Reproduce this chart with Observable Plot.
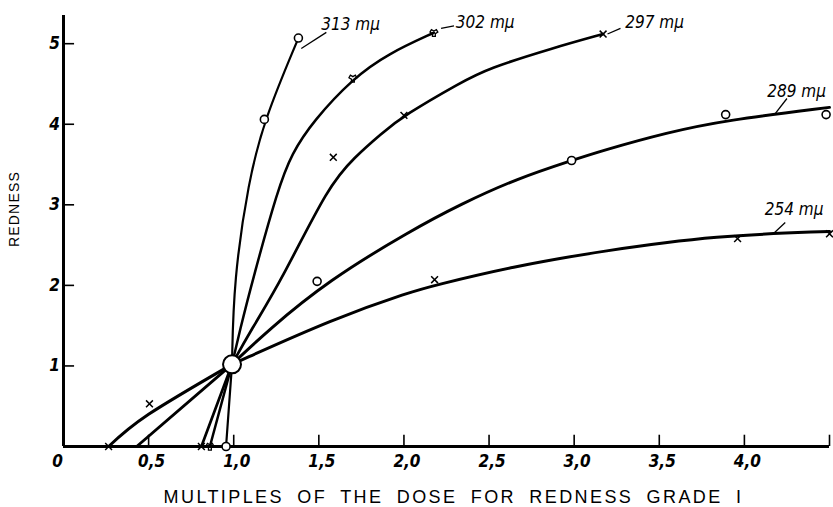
<!DOCTYPE html>
<html>
<head>
<meta charset="utf-8">
<script src="https://cdn.jsdelivr.net/npm/d3@7"></script>
<script src="https://cdn.jsdelivr.net/npm/@observablehq/plot@0.6"></script>
<style>
  html, body { margin: 0; padding: 0; background: #fff; }
</style>
</head>
<body>
<div id="chart"></div>
<script>
// ---- data ----
const xLabelValues = [0, 0.5, 1.0, 1.5, 2.0, 2.5, 3.0, 3.5, 4.0];
const xLabelTexts  = ["0", "0,5", "1,0", "1,5", "2,0", "2,5", "3,0", "3,5", "4,0"];
const xTickValues  = [0.5, 1.0, 1.5, 2.0, 2.5, 3.0, 3.5, 4.0, 4.5];
const yTickValues  = [1, 2, 3, 4, 5];
const yLabelTexts  = ["1", "2", "3", "4", "5"];

const seriesNames = ["313 mμ", "302 mμ", "297 mμ", "289 mμ", "254 mμ"];

// lower straight parts (x-axis intercept -> common point) and upper curves (common point -> end)
const lower313 = [[0.955, 0], [0.99, 1.02]];
const lower302 = [[0.86, 0], [0.99, 1.02]];
const lower297 = [[0.81, 0], [0.99, 1.02]];
const lower289 = [[0.43, 0], [0.99, 1.02]];
const lower254 = [[0.265, 0], [0.5, 0.40], [0.99, 1.02]];

const upper313 = [[0.99, 1.02], [1.0, 2.06], [1.087, 3.30], [1.18, 4.06], [1.38, 5.07]];
const upper302 = [[0.99, 1.02], [1.036, 1.44], [1.11, 2.06], [1.26, 3.20], [1.34, 3.635],
                  [1.467, 4.04], [1.70, 4.57], [1.907, 4.876], [2.176, 5.136]];
const upper297 = [[0.99, 1.02], [1.10, 1.44], [1.28, 2.06], [1.56, 3.25], [1.71, 3.59],
                  [1.865, 3.88], [2.0, 4.11], [2.335, 4.52], [2.49, 4.69], [2.88, 4.95], [3.17, 5.12]];
const upper289 = [[0.99, 1.02], [1.20, 1.44], [1.555, 2.06], [2.04, 2.68], [2.335, 3.01],
                  [2.67, 3.33], [2.985, 3.55], [3.16, 3.67], [3.55, 3.90], [3.89, 4.05], [4.5, 4.21]];
const upper254 = [[0.99, 1.02], [1.59, 1.59], [2.04, 1.92], [2.18, 2.0],
                  [2.63, 2.23], [3.17, 2.43], [3.84, 2.62], [4.5, 2.67]];

// measured points
const points313 = [[0.955, 0], [1.18, 4.06], [1.38, 5.07]];
const points302 = [[0.86, 0], [1.70, 4.57], [2.176, 5.136]];
const points297 = [[0.81, 0], [1.585, 3.59], [2.0, 4.11], [3.17, 5.12]];
const points289 = [[1.49, 2.05], [2.985, 3.55], [3.89, 4.12], [4.48, 4.12]];
const points254 = [[0.265, 0], [0.505, 0.53], [2.18, 2.07], [3.96, 2.58], [4.5, 2.64]];
const hubPoint  = [[0.99, 1.02]];

// series labels and their leader lines
const labelX = [1.514, 2.305, 3.30, 4.134, 4.12];
const labelY = [5.24, 5.26, 5.26, 4.40, 2.94];
const leaderX1 = [1.397, 2.218, 3.196, 4.18, 4.17];
const leaderY1 = [4.94, 5.19, 5.12, 4.13, 2.64];
const leaderX2 = [1.544, 2.294, 3.272, 4.25, 4.24];
const leaderY2 = [5.14, 5.22, 5.19, 4.32, 2.78];

const xTitle = "MULTIPLES OF THE DOSE FOR REDNESS GRADE I";
const yTitle = "REDNESS";

// ---- build ----
const labels = seriesNames.map((t, i) => ({t, x: labelX[i], y: labelY[i]}));
const leaders = seriesNames.map((t, i) => ({x1: leaderX1[i], y1: leaderY1[i], x2: leaderX2[i], y2: leaderY2[i]}));
const xLabels = xLabelValues.map((v, i) => ({v, t: xLabelTexts[i]}));
const X = d => d[0], Y = d => d[1];
const tickFont = "'DejaVu Sans Condensed', 'DejaVu Sans', sans-serif";
const titleFont = "'Liberation Sans', Arial, sans-serif";

function curveMarks(lower, upper, w) {
  return [
    Plot.line(lower, {x: X, y: Y, curve: lower.length > 2 ? "natural" : "linear",
      stroke: "black", strokeWidth: w, strokeLinecap: "round"}),
    Plot.line(upper, {x: X, y: Y, curve: "basis", stroke: "black", strokeWidth: w, strokeLinecap: "round"})
  ];
}
const tickText = {fontFamily: tickFont, fontStyle: "italic", fontWeight: "bold", fontSize: 17};

const chart = Plot.plot({
  width: 833,
  height: 507,
  marginLeft: 63,
  marginRight: 4,
  marginTop: 15,
  marginBottom: 61,
  style: {background: "white", color: "black"},
  x: {domain: [0, 4.5], axis: null},
  y: {domain: [0, 5.35], axis: null},
  marks: [
    // axes lines
    Plot.ruleX([0], {y1: 0, y2: 5.35, stroke: "black", strokeWidth: 3}),
    Plot.ruleY([0], {x1: 0, x2: 4.5, stroke: "black", strokeWidth: 3}),
    // inward ticks
    Plot.ruleX(xTickValues, {x: d => d, y1: 0, y2: 0.14, stroke: "black", strokeWidth: 1.6}),
    Plot.ruleY(yTickValues, {y: d => d, x1: 0, x2: 0.065, stroke: "black", strokeWidth: 1.6}),
    // tick labels
    Plot.text(xLabels.filter(d => d.v === 0), {x: "v", y: 0, text: "t", dy: 15, dx: -6, ...tickText}),
    Plot.text(xLabels.filter(d => d.v !== 0), {x: "v", y: 0, text: "t", dy: 15, dx: 3, ...tickText}),
    Plot.text(yTickValues, {x: 0, y: d => d, text: (d, i) => yLabelTexts[i], dx: -9, ...tickText}),
    // axis titles
    Plot.text([xTitle], {frameAnchor: "bottom", lineAnchor: "middle", textAnchor: "middle", dy: 51, dx: 7,
      text: d => d, fontFamily: titleFont, fontSize: 18}),
    Plot.text([yTitle], {frameAnchor: "left", textAnchor: "middle", lineAnchor: "middle", rotate: -90,
      dx: -49, dy: -22, text: d => d, fontFamily: titleFont, fontSize: 14}),
    // curves
    ...curveMarks(lower313, upper313, 2.2),
    ...curveMarks(lower302, upper302, 2.5),
    ...curveMarks(lower297, upper297, 2.7),
    ...curveMarks(lower289, upper289, 2.9),
    ...curveMarks(lower254, upper254, 3),
    // markers
    Plot.dot(points313, {x: X, y: Y, symbol: "circle", r: 4, fill: "white", stroke: "black", strokeWidth: 1.6}),
    Plot.dot(points289, {x: X, y: Y, symbol: "circle", r: 4, fill: "white", stroke: "black", strokeWidth: 1.6}),
    Plot.dot(points297, {x: X, y: Y, symbol: "times", r: 3.2, stroke: "black", strokeWidth: 1.5}),
    Plot.dot(points254, {x: X, y: Y, symbol: "times", r: 3.2, stroke: "black", strokeWidth: 1.5}),
    Plot.dot(points302, {x: X, y: Y, symbol: "wye", r: 3, stroke: "black", fill: "none", strokeWidth: 1.3}),
    Plot.dot(hubPoint, {x: X, y: Y, r: 9, fill: "white", stroke: "black", strokeWidth: 2}),
    // leaders and labels
    Plot.link(leaders, {x1: "x1", y1: "y1", x2: "x2", y2: "y2", stroke: "black", strokeWidth: 1.3}),
    Plot.text(labels, {x: "x", y: "y", text: "t", textAnchor: "start",
      fontFamily: tickFont, fontStyle: "italic", fontSize: 17})
  ]
});

// letter spacing for the spaced-out titles
chart.querySelectorAll("text").forEach(t => {
  if (t.textContent === xTitle) { t.setAttribute("letter-spacing", "2.4"); t.setAttribute("word-spacing", "6"); }
  if (t.textContent === yTitle) { t.setAttribute("letter-spacing", "1.2"); }
});
document.getElementById("chart").appendChild(chart);
</script>
</body>
</html>
